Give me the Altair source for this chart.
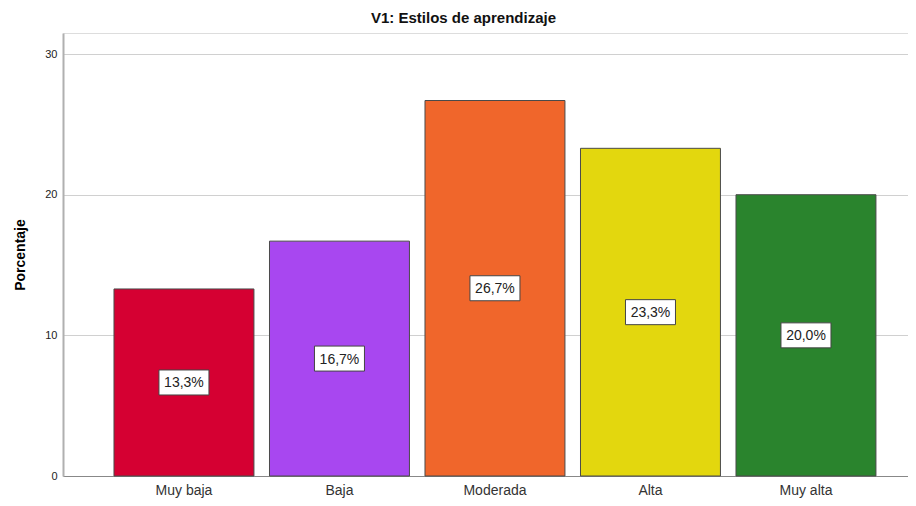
import altair as alt
import pandas as pd

categories = ["Muy baja", "Baja", "Moderada", "Alta", "Muy alta"]
values = [13.3, 16.7, 26.7, 23.3, 20.0]
labels = ["13,3%", "16,7%", "26,7%", "23,3%", "20,0%"]
colors = ["#D50032", "#A847F0", "#F0662B", "#E3D70E", "#2A842D"]

df = pd.DataFrame({"cat": categories, "val": values, "lab": labels,
                   "mid": [v / 2 for v in values], "col": colors})

xscale = alt.Scale(domain=categories, paddingInner=0.1, paddingOuter=0.267, align=0.614)
yscale = alt.Scale(domain=[0, 31.5], nice=False)

x = alt.X("cat:N", scale=xscale, sort=categories, title=None,
          axis=alt.Axis(labelAngle=0, labelFontSize=14, labelColor="#333333",
                        labelFont="Liberation Sans", ticks=False, labelPadding=7,
                        domainColor="#888888", domainWidth=1))

bars = alt.Chart(df).mark_bar(stroke="#4a4a4a", strokeWidth=1).encode(
    x=x,
    y=alt.Y("val:Q", scale=yscale, title="Porcentaje",
            axis=alt.Axis(values=[0, 10, 20, 30], labelFontSize=11, labelColor="#222222",
                          labelFont="Liberation Sans", ticks=False, labelPadding=6,
                          titleFont="Liberation Sans", titleFontSize=14, titleFontWeight="bold",
                          titleColor="#000000", titlePadding=17,
                          grid=True, gridColor="#d0d0d0", domainColor="#b0b0b0", domainWidth=2)),
    color=alt.Color("col:N", scale=None),
)

boxes = alt.Chart(df).mark_point(
    shape="M-1,-0.5H1V0.5H-1Z", size=2500, filled=True, fill="white",
    stroke="#444444", strokeWidth=1, opacity=1
).encode(x=alt.X("cat:N", scale=xscale, sort=categories), y=alt.Y("mid:Q", scale=yscale))

texts = alt.Chart(df).mark_text(
    font="Liberation Sans", fontSize=14, color="#222222", baseline="middle", align="center", dy=1
).encode(x=alt.X("cat:N", scale=xscale, sort=categories), y=alt.Y("mid:Q", scale=yscale), text="lab:N")

chart = alt.layer(bars, boxes, texts).properties(
    width=845, height=443,
    title=alt.TitleParams("V1: Estilos de aprendizaje", font="Liberation Sans", fontSize=15,
                          fontWeight="bold", color="#111111", anchor="middle", dx=-22, offset=7),
    autosize=alt.AutoSizeParams(type="none"),
    padding={"left": 55, "top": 25, "right": 0, "bottom": 22},
).configure_view(stroke=None).configure(background="white")

chart.save("out.html", embed_options={"renderer": "svg", "actions": False})
